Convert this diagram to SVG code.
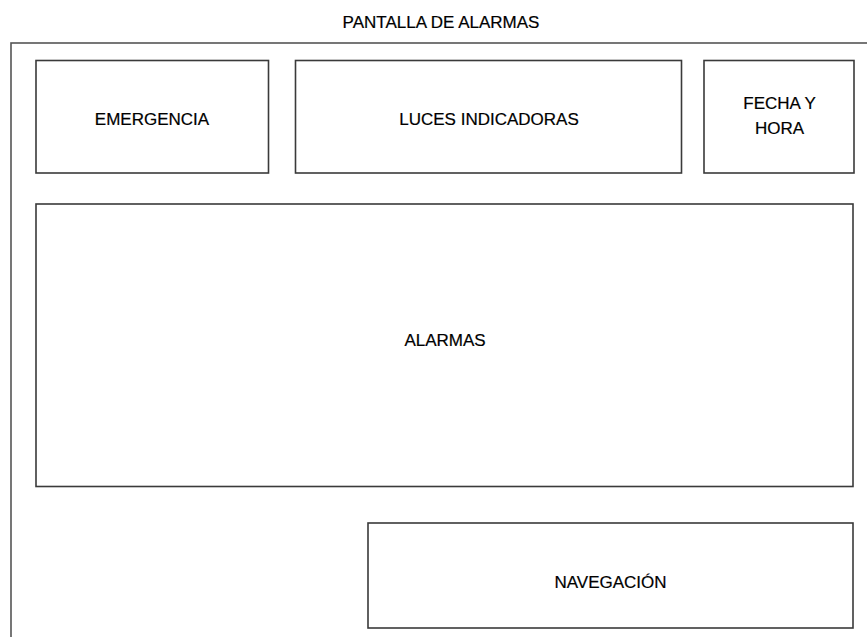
<svg xmlns="http://www.w3.org/2000/svg" width="867" height="637" viewBox="0 0 867 637">
<style>
.box{fill:#fff;stroke:#3a3a3a;stroke-width:1.6}
.outer{fill:#fff;stroke:#555;stroke-width:1.6}
.t{font-family:"Liberation Sans",Arial,sans-serif;font-size:17px;fill:#000;text-anchor:middle;stroke:#000;stroke-width:0.2}
</style>
<rect width="867" height="637" fill="#fff"/>
<g id="title"><text class="t" x="441" y="28">PANTALLA DE ALARMAS</text></g>
<g id="pantalla"><rect class="outer" x="11" y="43" width="870" height="620"/></g>
<g id="emergencia"><rect class="box" x="36" y="60.5" width="232.5" height="112.5"/><text class="t" x="152" y="125">EMERGENCIA</text></g>
<g id="luces"><rect class="box" x="295.5" y="60.5" width="386" height="112.5"/><text class="t" x="489" y="125">LUCES INDICADORAS</text></g>
<g id="fecha"><rect class="box" x="704" y="60.5" width="150" height="112.5"/><text class="t" x="779.5" y="109">FECHA Y</text><text class="t" x="779.5" y="134">HORA</text></g>
<g id="alarmas"><rect class="box" x="36" y="204" width="817" height="282.5"/><text class="t" x="445" y="346">ALARMAS</text></g>
<g id="navegacion"><rect class="box" x="368" y="523" width="485" height="105"/><text class="t" x="610.5" y="588">NAVEGACIÓN</text></g>
<g id="connectors"/>
</svg>
